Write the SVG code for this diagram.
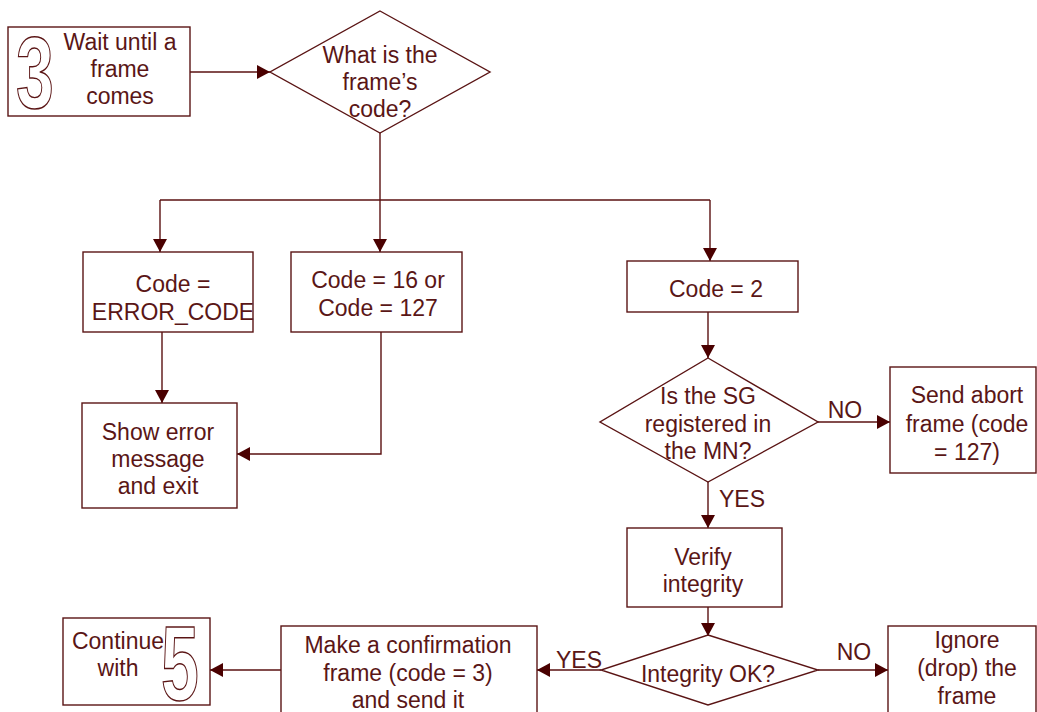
<svg xmlns="http://www.w3.org/2000/svg" width="1037" height="712" viewBox="0 0 1037 712">
<defs>
<marker id="arr" markerUnits="userSpaceOnUse" markerWidth="14" markerHeight="14" refX="13" refY="7" orient="auto">
<path d="M0,0 L13,7 L0,14 z" fill="#4a0000"/>
</marker>
<style>
.box{fill:#fff;stroke:#5a1414;stroke-width:1.4}
.t{font-family:"Liberation Sans",Arial,sans-serif;font-size:23px;fill:#5a1616;text-anchor:middle}
.big{font-family:"Liberation Sans",Arial,sans-serif;font-size:100px;font-weight:bold;fill:#fff;stroke:#5a1414;stroke-width:1.4;text-anchor:middle}
.c{fill:none;stroke:#5a1010;stroke-width:1.4}
.a{marker-end:url(#arr)}
</style>
</defs>
<rect width="1037" height="712" fill="#fff"/>
<g id="connectors">
<path class="c a" d="M190,72 H270"/>
<path class="c" d="M380,133 V200"/>
<path class="c" d="M160,200 H710"/>
<path class="c a" d="M160,200 V252"/>
<path class="c a" d="M380,200 V252"/>
<path class="c a" d="M710,200 V261"/>
<path class="c a" d="M162,332 V403"/>
<path class="c a" d="M381,332 V454 H237"/>
<path class="c a" d="M708,312 V358"/>
<path class="c a" d="M818,422 H890"/>
<path class="c a" d="M708,482 V528"/>
<path class="c a" d="M708,607 V636"/>
<path class="c a" d="M818,670 H888"/>
<path class="c a" d="M601,670 H537"/>
<path class="c a" d="M281,670 H210"/>
<text class="t" x="845" y="418">NO</text>
<text class="t" x="742" y="507">YES</text>
<text class="t" x="854" y="660">NO</text>
<text class="t" x="579" y="668">YES</text>
</g>
<g id="n_wait">
<rect class="box" x="8" y="27" width="182" height="89"/>
<text class="big" transform="translate(35,108) scale(0.68,1.02)">3</text>
<text class="t" x="120" y="50">Wait until a</text>
<text class="t" x="120" y="77">frame</text>
<text class="t" x="120" y="104">comes</text>
</g>
<g id="n_code_q">
<polygon class="box" points="380,11 490,72 380,133 270,72"/>
<text class="t" x="380" y="63">What is the</text>
<text class="t" x="380" y="90">frame’s</text>
<text class="t" x="380" y="117">code?</text>
</g>
<g id="n_error_code">
<rect class="box" x="83" y="252" width="170" height="80"/>
<text class="t" x="173" y="292">Code =</text>
<text class="t" x="173" y="320">ERROR_CODE</text>
</g>
<g id="n_code16">
<rect class="box" x="291" y="252" width="171" height="80"/>
<text class="t" x="378" y="288">Code = 16 or</text>
<text class="t" x="378" y="316">Code = 127</text>
</g>
<g id="n_code2">
<rect class="box" x="627" y="261" width="171" height="51"/>
<text class="t" x="716" y="297">Code = 2</text>
</g>
<g id="n_show_error">
<rect class="box" x="82" y="403" width="155" height="105"/>
<text class="t" x="158" y="440">Show error</text>
<text class="t" x="158" y="467">message</text>
<text class="t" x="158" y="494">and exit</text>
</g>
<g id="n_registered">
<polygon class="box" points="708,358 818,422 708,482 600,422"/>
<text class="t" x="708" y="404">Is the SG</text>
<text class="t" x="708" y="432">registered in</text>
<text class="t" x="708" y="459">the MN?</text>
</g>
<g id="n_abort">
<rect class="box" x="890" y="367" width="146" height="106"/>
<text class="t" x="967" y="403">Send abort</text>
<text class="t" x="967" y="432">frame (code</text>
<text class="t" x="967" y="460">= 127)</text>
</g>
<g id="n_verify">
<rect class="box" x="627" y="528" width="155" height="79"/>
<text class="t" x="703" y="565">Verify</text>
<text class="t" x="703" y="592">integrity</text>
</g>
<g id="n_integrity">
<polygon class="box" points="708,635 818,670 708,705 601,670"/>
<text class="t" x="708" y="682">Integrity OK?</text>
</g>
<g id="n_ignore">
<rect class="box" x="888" y="626" width="148" height="100"/>
<text class="t" x="967" y="648">Ignore</text>
<text class="t" x="967" y="676">(drop) the</text>
<text class="t" x="967" y="704">frame</text>
</g>
<g id="n_confirm">
<rect class="box" x="281" y="626" width="256" height="100"/>
<text class="t" x="408" y="653">Make a confirmation</text>
<text class="t" x="408" y="681">frame (code = 3)</text>
<text class="t" x="408" y="708">and send it</text>
</g>
<g id="n_continue">
<rect class="box" x="63" y="618" width="147" height="87"/>
<text class="t" x="118" y="649">Continue</text>
<text class="t" x="118" y="676">with</text>
<text class="big" transform="translate(180,700) scale(0.68,1.06)">5</text>
</g>
</svg>
